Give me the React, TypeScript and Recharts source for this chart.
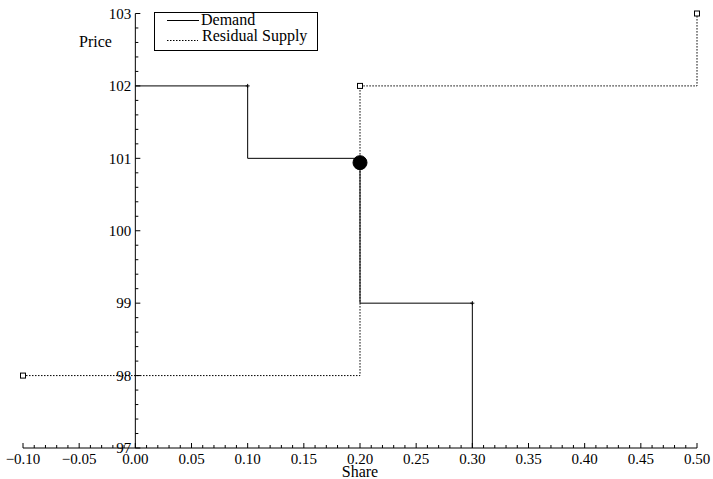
import { LineChart, Line, XAxis, YAxis, ReferenceLine, ReferenceDot, Legend } from "recharts";

// demand: step edges on the share axis, price held on each step, floor it drops to
const demandEdges = [0, 0.1, 0.2, 0.3];
const demandPrices = [102, 101, 99];
const demandFloor = 97;

// residual supply: step starts, price on each step
const supplyEdges = [-0.1, 0.2, 0.5];
const supplyPrices = [98, 102, 103];

const equilibrium = { share: 0.2, price: 100.94 };

const xMajorTicks = [-0.1, -0.05, 0, 0.05, 0.1, 0.15, 0.2, 0.25, 0.3, 0.35, 0.4, 0.45, 0.5];
const yMajorTicks = [97, 98, 99, 100, 101, 102, 103];
const minorSteps = 5;

const FONT = "'Liberation Serif', 'DejaVu Serif', serif";

type Pt = { x: number; y: number; mark?: boolean };

const demandData: Pt[] = [];
demandPrices.forEach((p, i) => {
  demandData.push({ x: demandEdges[i], y: p });
  demandData.push({ x: demandEdges[i + 1], y: p, mark: true });
});
demandData.push({ x: demandEdges[demandEdges.length - 1], y: demandFloor });

const supplyData: Pt[] = [];
supplyPrices.forEach((p, i) => {
  supplyData.push({ x: supplyEdges[i], y: p, mark: true });
  if (i < supplyPrices.length - 1) supplyData.push({ x: supplyEdges[i + 1], y: p });
});

function subdivide(major: number[]) {
  const out: { v: number; major: boolean }[] = [];
  major.forEach((m, i) => {
    out.push({ v: m, major: true });
    if (i < major.length - 1) {
      const step = (major[i + 1] - m) / minorSteps;
      for (let k = 1; k < minorSteps; k++) out.push({ v: m + step * k, major: false });
    }
  });
  return out;
}

const xTicks = subdivide(xMajorTicks);
const yTicks = subdivide(yMajorTicks);

const fmt = (v: number) => {
  const s = Math.abs(v) < 1e-9 ? "0.00" : v.toFixed(2);
  return s.replace("-", "\u2212");
};

const XTick = (props: any) => {
  const { x, y, payload } = props;
  const v = payload.value as number;
  const major = xMajorTicks.some((m) => Math.abs(m - v) < 1e-6);
  return (
    <g>
      <line x1={x} x2={x} y1={y} y2={y - (major ? 5 : 3)} stroke="#000" strokeWidth={1} />
      {major && (
        <text x={x} y={y + 16} textAnchor="middle" fontSize={15} fontFamily={FONT} fill="#000">
          {fmt(v)}
        </text>
      )}
    </g>
  );
};

const DemandDot = (props: any) => {
  const { cx, cy, payload, index } = props;
  if (!payload.mark) return <g key={index} />;
  return (
    <g key={index}>
      <line x1={cx - 2} x2={cx + 2} y1={cy} y2={cy} stroke="#000" />
      <line x1={cx} x2={cx} y1={cy - 2} y2={cy + 2} stroke="#000" />
    </g>
  );
};

const SupplyDot = (props: any) => {
  const { cx, cy, payload, index } = props;
  if (!payload.mark) return <g key={index} />;
  return <rect key={index} x={cx - 2.5} y={cy - 2.5} width={5} height={5} fill="#fff" stroke="#000" strokeWidth={1} />;
};

const LegendBox = () => (
  <svg width={165} height={40} style={{ display: "block" }}>
    <rect x={0.5} y={0.5} width={163} height={38} fill="#fff" stroke="#000" />
    <line x1={13} x2={45} y1={8.5} y2={8.5} stroke="#000" />
    <text x={47} y={13} fontSize={16} fontFamily={FONT} fill="#000">Demand</text>
    <line x1={13} x2={44} y1={28.5} y2={28.5} stroke="#000" strokeDasharray="1.5 1.5" />
    <text x={48} y={29} fontSize={16} fontFamily={FONT} fill="#000">Residual Supply</text>
  </svg>
);

export default function App() {
  const majorLen = 5 / 1124;
  const minorLen = 3 / 1124;
  return (
    <div style={{ position: "absolute", left: 0, top: 0, background: "#fff" }}>
      <LineChart
        width={713}
        height={479}
        margin={{ top: 13.5, right: 16, left: 23, bottom: 0 }}
      >
        <XAxis
          type="number"
          dataKey="x"
          domain={[-0.1, 0.5]}
          ticks={xTicks.map((t) => t.v)}
          interval={0}
          height={31}
          tickLine={false}
          tickSize={0}
          tickMargin={0}
          axisLine={{ stroke: "#000", strokeWidth: 1 }}
          tick={<XTick />}
          label={{ value: "Share", position: "insideBottom", offset: 2, fontSize: 16, fontFamily: FONT, fill: "#000" }}
        />
        <YAxis type="number" domain={[97, 103]} hide />
        <ReferenceLine x={0} stroke="#000" strokeWidth={1} />
        {yTicks.map((t) => (
          <ReferenceLine
            key={t.v}
            segment={[
              { x: 0, y: t.v },
              { x: t.major ? majorLen : minorLen, y: t.v },
            ]}
            stroke="#000"
            strokeWidth={1}
            label={
              t.major
                ? { value: String(t.v), position: "left", offset: 4, fontSize: 15, fontFamily: FONT, fill: "#000" }
                : undefined
            }
          />
        ))}
        <ReferenceLine
          segment={[
            { x: -0.1, y: 102.62 },
            { x: -0.1, y: 102.62 },
          ]}
          stroke="none"
          ifOverflow="visible"
          label={{ value: "Price", position: "right", offset: 56, fontSize: 16, fontFamily: FONT, fill: "#000" }}
        />
        <Line
          data={supplyData}
          dataKey="y"
          type="linear"
          stroke="#000"
          strokeWidth={1}
          strokeDasharray="1.5 1.5"
          dot={<SupplyDot />}
          activeDot={false}
          isAnimationActive={false}
          name="Residual Supply"
        />
        <Line
          data={demandData}
          dataKey="y"
          type="linear"
          stroke="#000"
          strokeWidth={1}
          dot={<DemandDot />}
          activeDot={false}
          isAnimationActive={false}
          name="Demand"
        />
        <ReferenceDot x={equilibrium.share} y={equilibrium.price} r={7} fill="#000" stroke="#000" />
        <Legend
          layout="vertical"
          align="center"
          verticalAlign="middle"
          wrapperStyle={{ position: "absolute", left: 154, top: 12, width: 165 }}
          content={() => <LegendBox />}
        />
      </LineChart>
    </div>
  );
}
